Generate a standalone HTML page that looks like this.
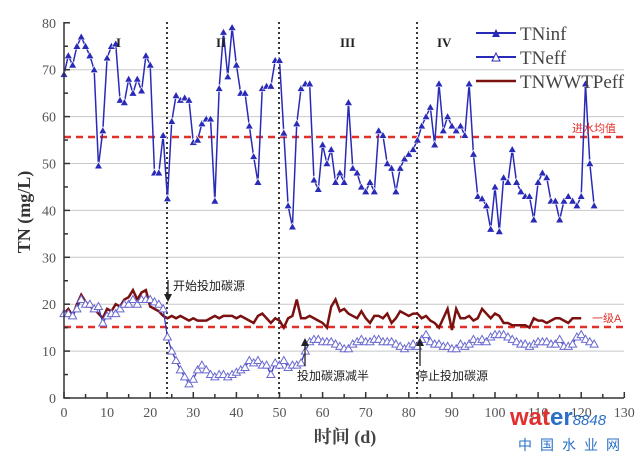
<!DOCTYPE html><html><head><meta charset="utf-8"><style>body{margin:0;background:#fff}svg{display:block}</style></head><body>
<svg id="s" width="640" height="461" xmlns="http://www.w3.org/2000/svg" font-family="Liberation Serif, serif">
<g id="grid" stroke="#c8c8c8" stroke-width="1"></g>
<line x1="64" y1="137" x2="624" y2="137" stroke="#e0302a" stroke-width="2.5" stroke-dasharray="7,5"/>
<line x1="64" y1="327" x2="624" y2="327" stroke="#e0302a" stroke-width="2.5" stroke-dasharray="7,5"/>
<g stroke="#222" stroke-width="1.8" stroke-dasharray="2,3"><line x1="167" y1="22" x2="167" y2="398"/><line x1="279" y1="22" x2="279" y2="398"/><line x1="417" y1="22" x2="417" y2="398"/></g>
<g id="series"></g>
<g id="axes" stroke="#333" stroke-width="1.5" fill="none"></g>
<g id="labels" font-size="14" fill="#555"></g>
<g font-size="13" font-weight="bold" fill="#222"><text x="116" y="47">I</text><text x="216" y="47">II</text><text x="340" y="47">III</text><text x="437" y="47">IV</text></g>
<g font-family="Liberation Sans, Noto Sans CJK SC, sans-serif" font-size="12" fill="#222">
<text x="173" y="290">开始投加碳源</text><text x="297" y="380">投加碳源减半</text><text x="416" y="380">停止投加碳源</text></g>
<g stroke="#222" stroke-width="1.3"><line x1="168" y1="280" x2="168" y2="296"/><line x1="305" y1="366" x2="305" y2="344"/><line x1="420" y1="366" x2="420" y2="344"/></g>
<g fill="#222"><path d="M164,294 L172,294 L168,302Z"/><path d="M301,346 L309,346 L305,338Z"/><path d="M416,346 L424,346 L420,338Z"/></g>
<g font-family="Liberation Sans, Noto Sans CJK SC, sans-serif" font-size="11" fill="#e0302a"><text x="572" y="132">进水均值</text><text x="592" y="322">一级A</text></g>
<g><line x1="476" y1="33" x2="516" y2="33" stroke="#2a2ab8" stroke-width="2"/><path d="M492,37 L500,37 L496,29Z" fill="#2a2ab8"/>
<line x1="476" y1="57" x2="516" y2="57" stroke="#2a2ab8" stroke-width="2"/><path d="M492,61 L500,61 L496,53Z" fill="#fff" stroke="#2a2ab8"/>
<line x1="476" y1="81" x2="516" y2="81" stroke="#7a1010" stroke-width="2.5"/>
<g font-size="19" fill="#444"><text x="520" y="40">TNinf</text><text x="520" y="64">TNeff</text><text x="520" y="88">TNWWTPeff</text></g></g>
<text transform="translate(30,212) rotate(-90)" text-anchor="middle" font-size="18" font-weight="bold" fill="#333">TN (mg/L)</text>
<text x="345" y="443" text-anchor="middle" font-family="Liberation Serif, Noto Serif CJK SC, serif" font-size="18" font-weight="bold" fill="#444">时间 (d)</text>
<text x="510" y="425" font-family="Liberation Sans, sans-serif" font-size="24" font-weight="bold" fill="#e03030">wat<tspan fill="#2a70c8">er</tspan><tspan font-size="15" font-style="italic" font-weight="normal" fill="#2a70c8">8848</tspan></text>
<text x="518" y="450" font-family="Noto Sans CJK SC, sans-serif" font-size="14" fill="#2a70c8" letter-spacing="8">中国水业网</text>
</svg>
<script>
const X=d=>64+d*4.31,Y=v=>398-v*4.69,ns="http://www.w3.org/2000/svg";
function el(p,t,a){const e=document.createElementNS(ns,t);for(const k in a)e.setAttribute(k,a[k]);document.getElementById(p).appendChild(e);return e}
for(let v=10;v<=70;v+=10)el("grid","line",{x1:64,x2:624,y1:Y(v),y2:Y(v)});
const inf=[69,73,71,75,77,75,73,70,49.5,57,72.5,75,75.5,63.5,63,68,65,68,65.5,73,71,48,48,56,42.5,59,64.5,63.5,64,63.5,54.5,55,58.5,59.5,59.5,42,66,78,68.5,79,71,65,65,58,51.5,46,66,66.5,66.5,72,72,56.5,41,36.5,58.5,66,67,67,46.5,44.5,54,50,53,46,48,46,63,49,48,45,44,46,44,57,56,50,49,44,49,51,52,53,55,58,60,62,54,67,57,60,58,57,58,56,67,52,43,42.5,41,36,45,35.5,47,46,53,46,44,43,43,38,46,48,47,42,42,38,42,43,42,41,43,67,50,41];
const eff=[18,18,17.5,19,21,20,20,19,19.5,16,17.5,18,18,19,20,20,21,20,21,21,21,20.5,20,19,13,10,8,6,4.5,3,4,6,7,6,5,4.5,5,5,4.5,5,5.5,6,6.5,8,7.5,8,7,7,5,7.5,7,8,6.5,7,7,7.5,10,12,12.5,12.5,12,12,12,11.5,11,10.5,10.5,11.5,12,12.5,12,12,12.5,12.5,12,12,12,11.5,11,10.5,11,11.5,11,12.5,13.5,12,11.5,11.5,11,11,10.5,10.5,11.5,11,11.5,12.5,12,12.5,12,13,13.5,13.5,13.5,13,12.5,12,11.5,11.5,11,11.5,12,12,12,11.5,11.5,12.5,11,11,11.5,13,13.5,12.5,12,11.5];
const ww=[18,19,17.5,20,22,20.5,19.5,19,18,17,19,18.5,20,19.5,21,21.5,23,21,22.5,23,19.5,19,18.5,17.5,17,17.5,17,17.5,17,16.5,17,16.5,16.5,16.5,17,17.5,17,17.5,17.5,17.5,17,17.5,17,16.5,16,17.5,18,17,16,17,16.5,15,17,17.5,21,17,17,17.5,17,16.5,16,15,19.5,21,18.5,19,18,17.5,17,18.5,17,16,17.5,17.5,17,18,16,17,18.5,18,17.5,18,18,17,17.5,16.5,16,15,17,19,14.5,19,17,17,17.5,16.5,17,19,18,17,18,17.5,16,16,15.5,15.5,15.5,15.5,15,17,16.5,16.5,16,16.5,17,17,16.5,16,17,17,17];
function line(a,c,w){el("series","polyline",{points:a.map((v,i)=>X(i)+","+Y(v)).join(" "),fill:"none",stroke:c,"stroke-width":w})}
line(ww,"#7a1010",2.5);line(eff,"#3a3ac0",1.3);line(inf,"#2a2ab8",1.5);
eff.forEach((v,i)=>el("series","path",{d:`M${X(i)-4},${Y(v)+3} h8 l-4,-7z`,fill:"#fff",stroke:"#6a6ad0","stroke-width":1}));
inf.forEach((v,i)=>el("series","path",{d:`M${X(i)-4},${Y(v)+3} h8 l-4,-7z`,fill:"#2a2ab8",stroke:"#fff","stroke-width":0.6}));
el("axes","path",{d:"M64,22 V398 H624"});
for(let v=0;v<=80;v+=5){el("axes","line",{x1:64,x2:v%10?68:70,y1:Y(v),y2:Y(v)});if(v%10==0){const t=el("labels","text",{x:56,y:Y(v)+5,"text-anchor":"end"});t.textContent=v}}
for(let d=0;d<=130;d+=5){el("axes","line",{x1:X(d),x2:X(d),y1:398,y2:d%10?394:392});if(d%10==0){const t=el("labels","text",{x:X(d),y:417,"text-anchor":"middle"});t.textContent=d}}
</script></body></html>
